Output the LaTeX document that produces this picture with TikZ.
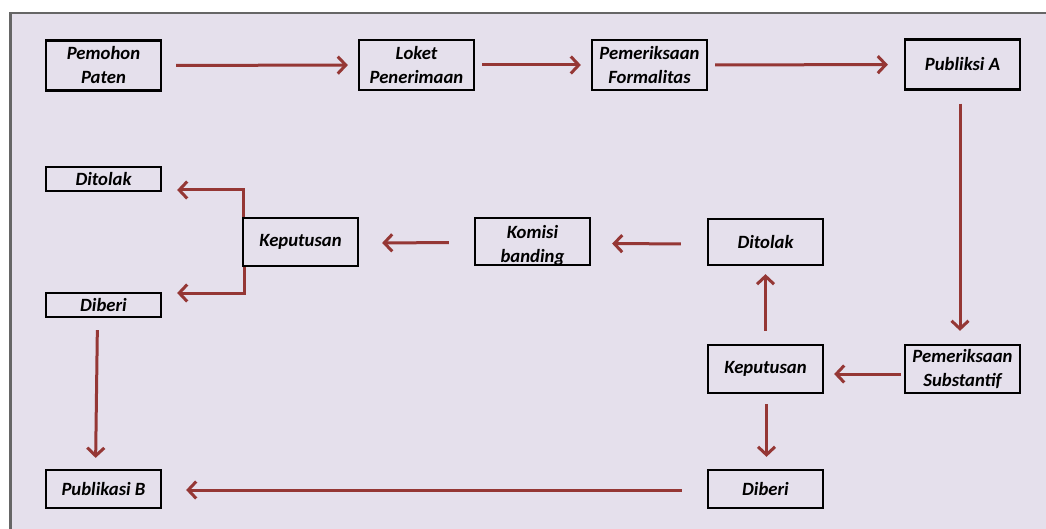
\documentclass[tikz,border=0pt]{standalone}
\usepackage{fontspec}
\setmainfont{Carlito}
\usetikzlibrary{arrows.meta}
\definecolor{bglav}{HTML}{E5E0EC}
\definecolor{arrred}{HTML}{953735}
\definecolor{framegray}{HTML}{666666}
\begin{document}
\begin{tikzpicture}[x=1pt,y=-1pt,
  boxtext/.style={inner sep=0pt, align=center,
    font=\fontsize{18.7}{24}\selectfont\bfseries\itshape},
  box/.style={boxtext, draw=black, line width=2.3pt, minimum width=115pt},
  flow/.style={draw=arrred, line width=3pt,
    -{Straight Barb[length=8pt,width=17pt]}}]
\useasboundingbox (0,0) rectangle (1046,529);
\clip (0,0) rectangle (1046,529);
% panel
\fill[white] (0,0) rectangle (1046,529);
\draw[framegray, line width=2.5pt, fill=bglav] (10.5,13) rectangle (1070,560);

% top row
\node[box, minimum height=50pt] (pemohon) at (103.5,65.5) {Pemohon\\Paten};
\node[box, minimum height=50pt] (loket) at (416.5,65) {Loket\\Penerimaan};
\node[box, minimum height=50pt] (formal) at (649.5,65) {Pemeriksaan\\Formalitas};
\node[box, minimum height=50pt] (pubA) at (962.5,64.5) {Publiksi A};

% left decision
\node[box, minimum height=24pt] (ditL) at (103.5,179) {Ditolak};
\node[box, minimum height=48pt] (kepL) at (300.5,242) {Keputusan};
\node[box, minimum height=24pt] (dibL) at (103.5,305) {Diberi};

% middle row: the appeal box carries its text set low
\node[box, minimum height=47pt] (komisi) at (532.5,241.5) {};
\node[boxtext] (komisitext) at (532.5,246) {Komisi\\banding};
\node[box, minimum height=46pt] (ditR) at (765.5,242) {Ditolak};

% right decision
\node[box, minimum height=48pt] (kepR) at (765.5,369) {Keputusan};
\node[box, minimum height=48pt] (subst) at (962.5,369) {Pemeriksaan\\Substantif};
\node[box, minimum height=38pt] (dibR) at (765.5,489) {Diberi};
\node[box, minimum height=38pt] (pubB) at (103.5,489) {Publikasi B};

% connectors
\draw[flow, shorten <=14pt, shorten >=10pt] (pemohon) -- (loket);
\draw[flow, shorten <=7pt, shorten >=10pt] (loket) -- (formal);
\draw[flow, shorten <=7pt, shorten >=16pt] (formal) -- (pubA);
\draw[flow, shorten <=13pt, shorten >=13pt] ([xshift=-2.5pt]pubA.south) -- ([xshift=-2.5pt]subst.north);
\draw[flow, shorten <=3pt, shorten >=10pt] ([yshift=-5pt]subst.west) -- ([yshift=-5pt]kepR.east);
\draw[flow, shorten <=13pt, shorten >=8pt] (kepR) -- (ditR);
\draw[flow, shorten <=10pt, shorten >=12pt] ([xshift=1pt]kepR.south) -- ([xshift=1pt]dibR.north);
\draw[flow, shorten <=26pt, shorten >=21pt] ([yshift=-2pt]ditR.west) -- ([yshift=-2pt]komisi.east);
\draw[flow, shorten <=25pt, shorten >=23pt] ([yshift=-1pt]komisi.west) -- ([yshift=-1pt]kepL.east);
\draw[flow] ([xshift=2pt]kepL.north west) |- ([xshift=15pt,yshift=-11pt]ditL.east);
\draw[flow] ([xshift=3pt]kepL.south west) |- ([xshift=15pt,yshift=12pt]dibL.east);
\draw[flow, shorten <=12pt, shorten >=11pt] ([xshift=-6pt]dibL.south) -- ([xshift=-8pt]pubB.north);
\draw[flow, shorten <=25pt, shorten >=24pt] ([yshift=-1pt]dibR.west) -- ([yshift=-1pt]pubB.east);
\end{tikzpicture}
\end{document}
